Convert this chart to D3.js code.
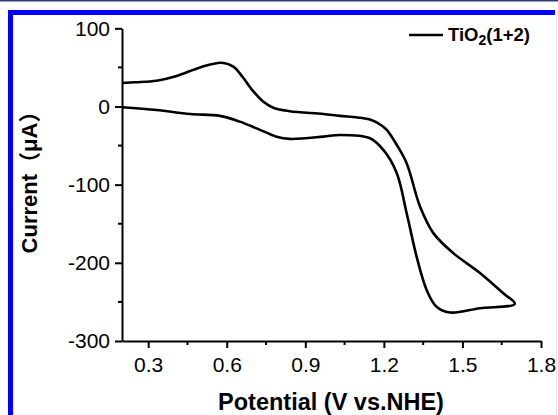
<!DOCTYPE html>
<html>
<head>
<meta charset="utf-8">
<script src="https://cdn.jsdelivr.net/npm/d3@7"></script>
<style>
  body { margin: 0; background: #fff; }
  svg { display: block; font-family: "Liberation Sans", Arial, sans-serif; }
</style>
</head>
<body>
<script>
// cyclic voltammogram, in scan order
const potential = [0.2, 0.25, 0.332, 0.409, 0.498, 0.58, 0.625, 0.66, 0.70, 0.74, 0.78, 0.84, 0.969, 1.032,
  1.1, 1.15, 1.19, 1.211, 1.249, 1.287, 1.338, 1.389, 1.465, 1.567, 1.656, 1.70,
  1.567, 1.452, 1.40, 1.363, 1.325, 1.287, 1.249, 1.198, 1.147, 1.032, 0.969, 0.84, 0.79,
  0.714, 0.65, 0.574, 0.46, 0.332, 0.2];
const current = [30, 31, 33, 39, 50, 56, 51, 38, 20, 6, -2, -6, -9.6, -12,
  -14, -17, -24, -30, -49, -72.6, -128, -162, -187.6, -213, -239, -252.4,
  -258, -263.5, -255.8, -234.5, -192, -136.5, -85, -55.6, -40.6, -36.4, -38.6, -41.5, -38.6,
  -28, -19.4, -12, -9.6, -4.5, -1];
const xTicks = [0.3, 0.6, 0.9, 1.2, 1.5, 1.8];
const xMinor = [0.45, 0.75, 1.05, 1.35, 1.65];
const yTicks = [100, 0, -100, -200, -300];
const yMinor = [50, -50, -150, -250];
const seriesName = "TiO";

const width = 558, height = 415;
const svg = d3.select("body").append("svg").attr("width", width).attr("height", height);

// frame around the figure
svg.append("rect").attr("x", 0).attr("y", 0).attr("width", width).attr("height", 1.5).attr("fill", "#2a3b78");
svg.append("rect").attr("x", 8).attr("y", 10).attr("width", 547).attr("height", 5).attr("fill", "#0000ff");
svg.append("rect").attr("x", 8).attr("y", 10).attr("width", 5).attr("height", height).attr("fill", "#0000ff");
svg.append("rect").attr("x", 556).attr("y", 15).attr("width", 1).attr("height", height).attr("fill", "#e4e6f4");

const x = d3.scaleLinear().domain([0.2, 1.8]).range([122, 541]);
const y = d3.scaleLinear().domain([-300, 100]).range([341, 28.3]);

// axes
const xAxis = svg.append("g").attr("transform", `translate(0,${y(-300)})`)
  .call(d3.axisBottom(x).tickValues(xTicks).tickSize(7).tickSizeOuter(0).tickPadding(9).tickFormat(d => d.toFixed(1)));
xAxis.append("g").selectAll("line").data(xMinor).join("line")
  .attr("x1", d => x(d)).attr("x2", d => x(d)).attr("y1", 0).attr("y2", 4);

const yAxis = svg.append("g").attr("transform", `translate(${x(0.2)},0)`)
  .call(d3.axisLeft(y).tickValues(yTicks).tickSize(7).tickSizeOuter(0).tickPadding(5).tickFormat(d => String(d)));
yAxis.append("g").selectAll("line").data(yMinor).join("line")
  .attr("y1", d => y(d)).attr("y2", d => y(d)).attr("x1", 0).attr("x2", -4);

svg.selectAll(".domain").attr("stroke", "#000").attr("stroke-width", 2);
svg.selectAll(".tick line").attr("stroke", "#000").attr("stroke-width", 2);
xAxis.selectAll("g > line").attr("stroke", "#000").attr("stroke-width", 2);
yAxis.selectAll("g > line").attr("stroke", "#000").attr("stroke-width", 2);
svg.selectAll(".tick text").attr("font-size", 21).attr("fill", "#000")
  .attr("font-family", "'Liberation Sans', Arial, sans-serif");

// curve
const pts = potential.map((p, i) => [p, current[i]]);
svg.append("path").datum(pts)
  .attr("fill", "none").attr("stroke", "#000").attr("stroke-width", 2.6).attr("stroke-linejoin", "round")
  .attr("d", d3.line().x(d => x(d[0])).y(d => y(d[1])).curve(d3.curveCatmullRom.alpha(0.5)));

// axis titles
svg.append("text").attr("x", 331).attr("y", 410).attr("text-anchor", "middle")
  .attr("font-size", 23.5).attr("font-weight", "bold").text("Potential (V vs.NHE)");
svg.append("text").attr("transform", "translate(37,177) rotate(-90)").attr("text-anchor", "middle")
  .attr("font-size", 22).attr("font-weight", "bold")
  .attr("font-family", "'Liberation Sans', 'Noto Sans CJK SC', sans-serif")
  .text("Current（μA）");

// legend
svg.append("line").attr("x1", 409).attr("x2", 443).attr("y1", 35).attr("y2", 35)
  .attr("stroke", "#000").attr("stroke-width", 2.6);
const lg = svg.append("text").attr("x", 448).attr("y", 41).attr("font-size", 18.5).attr("font-weight", "bold");
lg.append("tspan").text(seriesName);
lg.append("tspan").attr("font-size", 14).attr("dy", 4).text("2");
lg.append("tspan").attr("dy", -4).text("(1+2)");
</script>
</body>
</html>
